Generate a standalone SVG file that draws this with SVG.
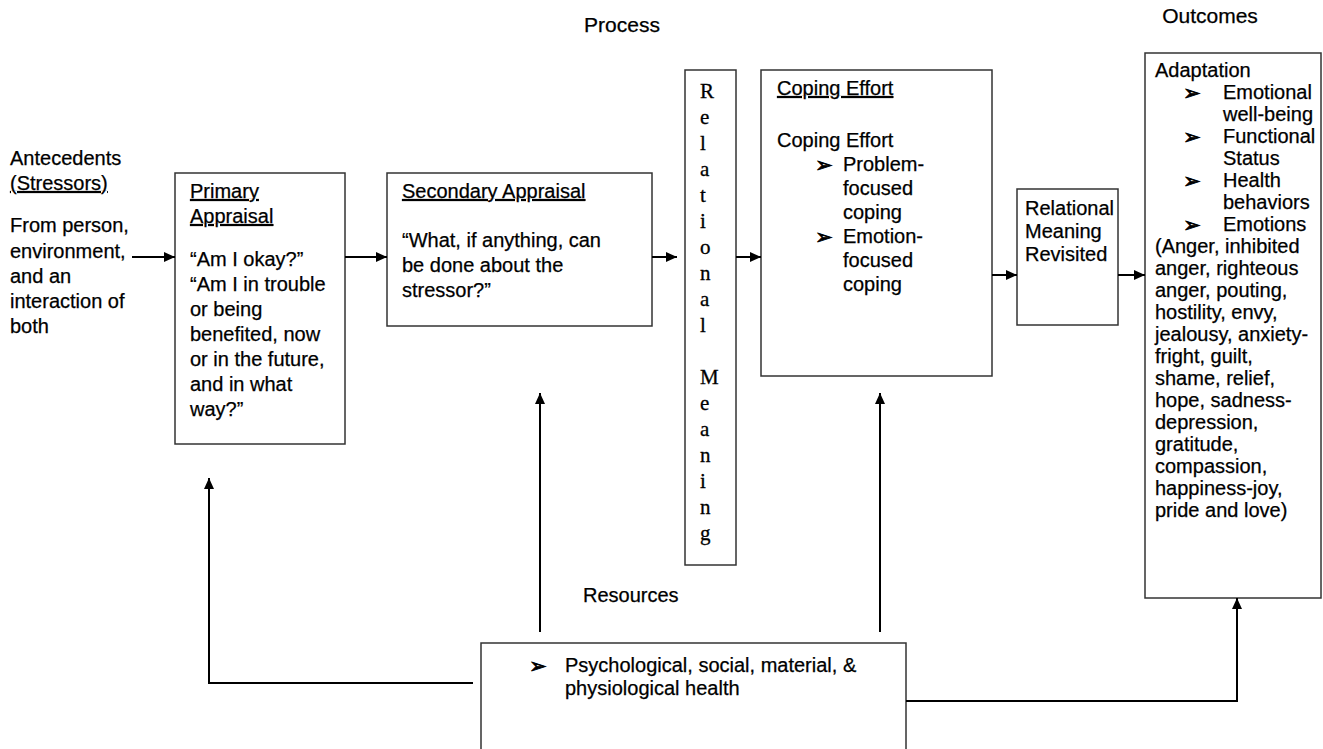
<svg xmlns="http://www.w3.org/2000/svg" width="1323" height="749" viewBox="0 0 1323 749">
<defs>
<marker id="ah" markerWidth="11" markerHeight="10" refX="11" refY="5" orient="auto" markerUnits="userSpaceOnUse">
<path d="M0,0 L11,5 L0,10 Z" fill="#000"/>
</marker>
<style>
.box{fill:#fff;stroke:#333;stroke-width:1.5}
.t{font-family:"Liberation Sans",Arial,sans-serif;font-size:20px;fill:#000;stroke:#000;stroke-width:0.25}
.u{text-decoration:underline}
.b{font-family:"DejaVu Sans",sans-serif;font-size:21px;fill:#000;stroke:#000;stroke-width:0.8}
.v{font-family:"Liberation Serif","Times New Roman",serif;font-size:21px;fill:#000;stroke:#000;stroke-width:0.3}
.c{fill:none;stroke:#000;stroke-width:2}
</style>
</defs>
<rect width="1323" height="749" fill="#fff"/>
<g id="headers">
<text class="t" x="622" y="32" text-anchor="middle" style="font-size:21px">Process</text>
<text class="t" x="1210" y="23" text-anchor="middle" style="font-size:21px">Outcomes</text>
</g>
<g id="antecedents">
<text class="t" x="10" y="165">Antecedents</text>
<text class="t u" x="10" y="190">(Stressors)</text>
<text class="t" x="10" y="232">From person,</text>
<text class="t" x="10" y="258">environment,</text>
<text class="t" x="10" y="283">and an</text>
<text class="t" x="10" y="308">interaction of</text>
<text class="t" x="10" y="333">both</text>
</g>
<g id="primary">
<rect class="box" x="175" y="173" width="170" height="271"/>
<text class="t u" x="190" y="198">Primary</text>
<text class="t u" x="190" y="223">Appraisal</text>
<text class="t" x="190" y="266">“Am I okay?”</text>
<text class="t" x="190" y="291">“Am I in trouble</text>
<text class="t" x="190" y="316">or being</text>
<text class="t" x="190" y="341">benefited, now</text>
<text class="t" x="190" y="366">or in the future,</text>
<text class="t" x="190" y="391">and in what</text>
<text class="t" x="190" y="416">way?”</text>
</g>
<g id="secondary">
<rect class="box" x="387" y="173" width="265" height="153"/>
<text class="t u" x="402" y="198">Secondary Appraisal</text>
<text class="t" x="402" y="247">“What, if anything, can</text>
<text class="t" x="402" y="272">be done about the</text>
<text class="t" x="402" y="297">stressor?”</text>
</g>
<g id="relational">
<rect class="box" x="685" y="70" width="51" height="495"/>
<text class="v" x="700" y="98">R</text>
<text class="v" x="700" y="124">e</text>
<text class="v" x="700" y="150">l</text>
<text class="v" x="700" y="176">a</text>
<text class="v" x="700" y="202">t</text>
<text class="v" x="700" y="228">i</text>
<text class="v" x="700" y="254">o</text>
<text class="v" x="700" y="280">n</text>
<text class="v" x="700" y="306">a</text>
<text class="v" x="700" y="332">l</text>
<text class="v" x="700" y="384">M</text>
<text class="v" x="700" y="410">e</text>
<text class="v" x="700" y="436">a</text>
<text class="v" x="700" y="462">n</text>
<text class="v" x="700" y="488">i</text>
<text class="v" x="700" y="514">n</text>
<text class="v" x="700" y="540">g</text>
</g>
<g id="coping">
<rect class="box" x="761" y="70" width="231" height="306"/>
<text class="t u" x="777" y="95">Coping Effort</text>
<text class="t" x="777" y="147">Coping Effort</text>
<text class="b" x="815" y="172">➢</text>
<text class="t" x="843" y="171">Problem-</text>
<text class="t" x="843" y="195">focused</text>
<text class="t" x="843" y="219">coping</text>
<text class="b" x="815" y="244">➢</text>
<text class="t" x="843" y="243">Emotion-</text>
<text class="t" x="843" y="267">focused</text>
<text class="t" x="843" y="291">coping</text>
</g>
<g id="revisited">
<rect class="box" x="1017" y="189" width="101" height="136"/>
<text class="t" x="1025" y="215">Relational</text>
<text class="t" x="1025" y="238">Meaning</text>
<text class="t" x="1025" y="261">Revisited</text>
</g>
<g id="adaptation">
<rect class="box" x="1145" y="53" width="176" height="545"/>
<text class="t" x="1155" y="77">Adaptation</text>
<text class="b" x="1183" y="100">➢</text>
<text class="t" x="1223" y="99">Emotional</text>
<text class="t" x="1223" y="121">well-being</text>
<text class="b" x="1183" y="144">➢</text>
<text class="t" x="1223" y="143">Functional</text>
<text class="t" x="1223" y="165">Status</text>
<text class="b" x="1183" y="188">➢</text>
<text class="t" x="1223" y="187">Health</text>
<text class="t" x="1223" y="209">behaviors</text>
<text class="b" x="1183" y="232">➢</text>
<text class="t" x="1223" y="231">Emotions</text>
<text class="t" x="1155" y="253">(Anger, inhibited</text>
<text class="t" x="1155" y="275">anger, righteous</text>
<text class="t" x="1155" y="297">anger, pouting,</text>
<text class="t" x="1155" y="319">hostility, envy,</text>
<text class="t" x="1155" y="341">jealousy, anxiety-</text>
<text class="t" x="1155" y="363">fright, guilt,</text>
<text class="t" x="1155" y="385">shame, relief,</text>
<text class="t" x="1155" y="407">hope, sadness-</text>
<text class="t" x="1155" y="429">depression,</text>
<text class="t" x="1155" y="451">gratitude,</text>
<text class="t" x="1155" y="473">compassion,</text>
<text class="t" x="1155" y="495">happiness-joy,</text>
<text class="t" x="1155" y="517">pride and love)</text>
</g>
<g id="resources">
<text class="t" x="583" y="602">Resources</text>
<rect class="box" x="481" y="643" width="425" height="120"/>
<text class="b" x="529" y="673">➢</text>
<text class="t" x="565" y="672">Psychological, social, material, &amp;</text>
<text class="t" x="565" y="695">physiological health</text>
</g>
<g id="connectors">
<line class="c" x1="132" y1="257" x2="175" y2="257" marker-end="url(#ah)"/>
<line class="c" x1="345" y1="257" x2="387" y2="257" marker-end="url(#ah)"/>
<line class="c" x1="652" y1="257" x2="677" y2="257" marker-end="url(#ah)"/>
<line class="c" x1="736" y1="257" x2="761" y2="257" marker-end="url(#ah)"/>
<line class="c" x1="992" y1="275" x2="1017" y2="275" marker-end="url(#ah)"/>
<line class="c" x1="1118" y1="275" x2="1145" y2="275" marker-end="url(#ah)"/>
<polyline class="c" points="473,683 209,683 209,478" marker-end="url(#ah)"/>
<line class="c" x1="540" y1="632" x2="540" y2="393" marker-end="url(#ah)"/>
<line class="c" x1="880" y1="632" x2="880" y2="393" marker-end="url(#ah)"/>
<polyline class="c" points="906,701 1237,701 1237,598" marker-end="url(#ah)"/>
</g>
</svg>
